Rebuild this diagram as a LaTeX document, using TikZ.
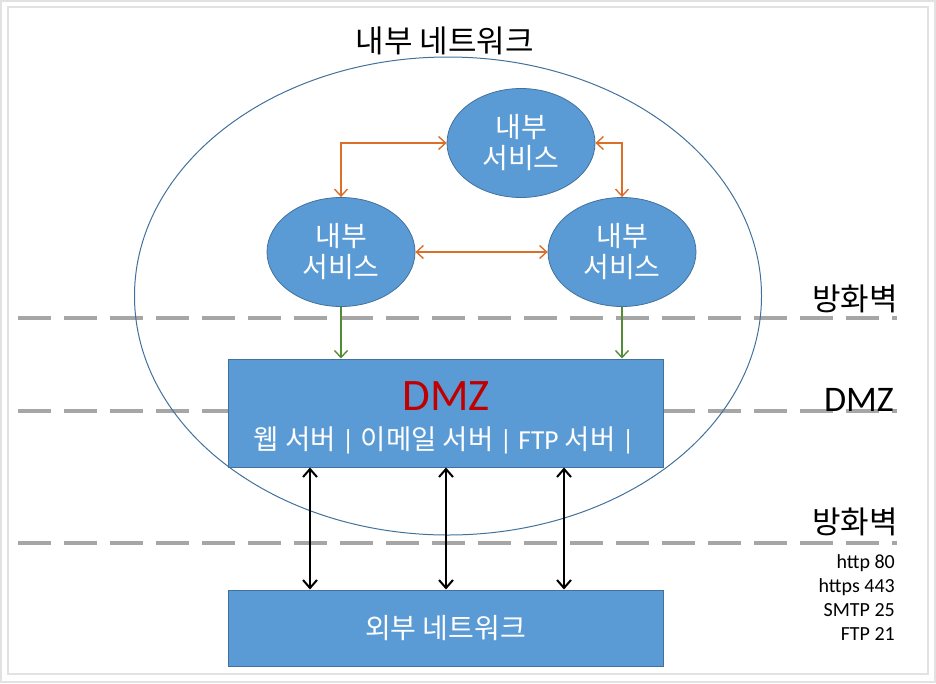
\documentclass[tikz,border=0pt]{standalone}
\usepackage{fontspec}
\setmainfont{Carlito}
\newfontfamily\kr{Noto Sans CJK KR}
\usetikzlibrary{arrows.meta,shapes.geometric}
\definecolor{boxblue}{RGB}{91,155,213}
\definecolor{boxedge}{RGB}{65,113,156}
\definecolor{orangeA}{RGB}{219,110,40}
\definecolor{greenA}{RGB}{84,140,54}
\definecolor{dashgray}{RGB}{166,166,166}
\definecolor{framegray}{RGB}{226,226,226}
\begin{document}
\begin{tikzpicture}[x=1pt,y=-1pt,
  svc/.style={ellipse,draw=boxedge,line width=0.8pt,fill=boxblue,minimum width=148pt,minimum height=109pt,inner sep=0pt,align=center,text=white,font=\kr\fontsize{28}{31}\selectfont},
  bluebox/.style={rectangle,draw=boxedge,line width=1pt,fill=boxblue,inner sep=0pt,align=center,text=white},
  fw/.style={draw=dashgray,line width=4pt,dash pattern=on 33pt off 13pt},
  oarr/.style={draw=orangeA,line width=1.4pt,{Straight Barb[length=7pt,width=13pt]}-{Straight Barb[length=7pt,width=13pt]}},
  garr/.style={draw=greenA,line width=1.4pt,-{Straight Barb[length=7pt,width=13pt]}},
  barr/.style={draw=black,line width=2pt,{Straight Barb[length=8pt,width=14pt]}-{Straight Barb[length=8pt,width=14pt]}},
  lbl/.style={anchor=east,inner sep=0pt}]
\useasboundingbox (0,0) rectangle (936,683);
\draw[framegray,line width=1.5pt] (1,1) rectangle (935,682);
\draw[framegray,line width=1.5pt] (8,7) rectangle (928,674);
% firewall dashed lines
\coordinate (f1a) at (18,318); \coordinate (f1b) at (897,318);
\coordinate (f2a) at (18,411); \coordinate (f2b) at (897,411);
\coordinate (f3a) at (18,543); \coordinate (f3b) at (897,543);
\draw[fw] (f1a) -- (f1b);
\draw[fw] (f2a) -- (f2b);
\draw[fw] (f3a) -- (f3b);
% internal network ellipse
\node[ellipse,draw=boxedge,line width=1pt,minimum width=627pt,minimum height=478pt,inner sep=0pt] (net) at (448,296) {};
\node[font=\kr\fontsize{31}{36}\selectfont] (title) at (445,41) {내부 네트워크};
% services
\node[svc] (s1) at (521,143) {내부\\서비스};
\node[svc] (s2) at (341,252) {내부\\서비스};
\node[svc] (s3) at (622,252) {내부\\서비스};
\draw[oarr] (s2.north) |- (s1.west);
\draw[oarr] (s1.east) -| (s3.north);
\draw[oarr] (s2.east) -- (s3.west);
% DMZ box
\node[bluebox,minimum width=435pt,minimum height=108pt] (dmz) at (445.5,413) {};
\node[font=\fontsize{45}{50}\selectfont,text={rgb,255:red,192;green,0;blue,0}] (dmzt) at (446,396) {DMZ};
\node[text=white,font=\fontsize{27.5}{32}\selectfont] (dmzs) at (444,440) {{\kr 웹 서버} | {\kr 이메일 서버} | FTP {\kr 서버} |};
\draw[garr] (s2.south) -- (s2.south |- dmz.north);
\draw[garr] (s3.south) -- (s3.south |- dmz.north);
% external network
\node[bluebox,minimum width=435pt,minimum height=76pt,font=\kr\fontsize{28}{32}\selectfont] (ext) at (445.5,628) {외부 네트워크};
\coordinate (a1) at (310,0); \coordinate (a2) at (446,0); \coordinate (a3) at (564,0);
\draw[barr] (a1 |- dmz.south) -- (a1 |- ext.north);
\draw[barr] (a2 |- dmz.south) -- (a2 |- ext.north);
\draw[barr] (a3 |- dmz.south) -- (a3 |- ext.north);
% right labels
\node[lbl,font=\kr\fontsize{31}{34}\selectfont] (l1) at (898,299) {방화벽};
\node[lbl,font=\fontsize{36}{40}\selectfont] (l2) at (894,400) {DMZ};
\node[lbl,font=\kr\fontsize{31}{34}\selectfont] (l3) at (898,522) {방화벽};
\node[lbl,font=\fontsize{20}{22}\selectfont] (p1) at (895,563) {http 80};
\node[lbl,font=\fontsize{20}{22}\selectfont] (p2) at (895,587) {https 443};
\node[lbl,font=\fontsize{20}{22}\selectfont] (p3) at (895,610) {SMTP 25};
\node[lbl,font=\fontsize{20}{22}\selectfont] (p4) at (895,634) {FTP 21};
\end{tikzpicture}
\end{document}
